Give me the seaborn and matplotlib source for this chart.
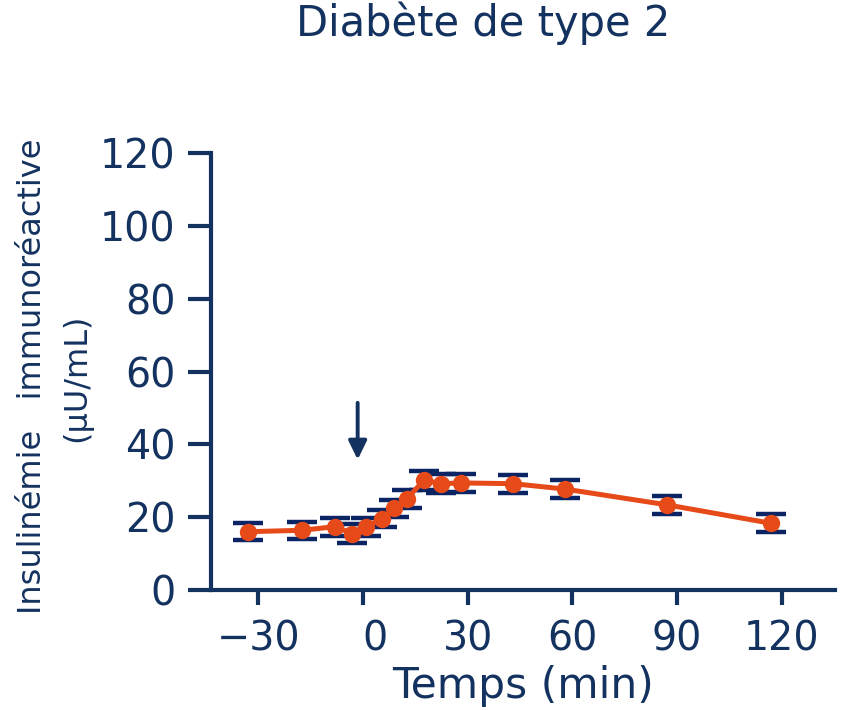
import matplotlib
matplotlib.use("Agg")
import matplotlib.pyplot as plt
import matplotlib.transforms as mtransforms
import seaborn as sns
import pandas as pd

# ---- data ----
time_min = [-33, -17.5, -8, -3, 1, 5.5, 9, 12.5, 17.5, 22.5, 28, 43, 58, 87, 117]
insulin = [16.0, 16.4, 17.4, 15.5, 17.4, 19.6, 22.4, 25.0, 30.1, 29.2, 29.4, 29.2, 27.7, 23.4, 18.3]
insulin_err = [2.4, 2.4, 2.45, 2.5, 2.5, 2.4, 2.4, 2.5, 2.6, 2.6, 2.5, 2.45, 2.45, 2.5, 2.5]
x_ticks = [-30, 0, 30, 60, 90, 120]
y_ticks = [0, 20, 40, 60, 80, 100, 120]
arrow_x = -1.5
arrow_y_from = 51.4
arrow_y_to = 35.8

title = "Diabète de type 2"
xlabel = "Temps (min)"
ylabel_line1 = "Insulinémie   immunoréactive"
ylabel_line2 = "(µU/mL)"

NAVY = "#14325f"
CAP = "#0b2463"
ORANGE = "#e64a19"

sns.set_theme(style="white")
plt.rcParams["font.family"] = ["DejaVu Sans"]

df = pd.DataFrame({"t": time_min, "ins": insulin, "err": insulin_err})

W, H = 848, 710
fig = plt.figure(figsize=(W / 100, H / 100), dpi=100)
ax = fig.add_axes([211 / W, 1 - 590 / H, (835 - 211) / W, (590 - 153) / H])

# error bars (caps)
ax.errorbar(df["t"], df["ins"], yerr=df["err"], fmt="none", ecolor=CAP,
            elinewidth=2, capsize=11, capthick=3.2, zorder=2)

# line + markers
sns.lineplot(data=df, x="t", y="ins", ax=ax, color=ORANGE, linewidth=3.6,
             marker="o", markersize=12.5, markeredgewidth=0, zorder=3,
             errorbar=None, sort=False)

# arrow
ax.annotate("", xy=(arrow_x, arrow_y_to), xytext=(arrow_x, arrow_y_from),
            arrowprops=dict(arrowstyle="-|>,head_length=0.45,head_width=0.22",
                            mutation_scale=25, color=NAVY, lw=2.8,
                            shrinkA=0, shrinkB=0))

ax.set_xlim(-43.5, 135.2)
ax.set_ylim(0, 120)
ax.set_xticks(x_ticks)
ax.set_yticks(y_ticks)
ax.set_xlabel(xlabel, fontsize=30.5, color=NAVY, labelpad=4)
ax.set_ylabel("")

for s in ["top", "right"]:
    ax.spines[s].set_visible(False)
for s in ["left", "bottom"]:
    ax.spines[s].set_color(NAVY)
    ax.spines[s].set_linewidth(3)

ax.tick_params(axis="y", direction="out", length=16.5, width=3, color=NAVY,
               labelcolor=NAVY, labelsize=28.5, pad=9, left=True)
ax.tick_params(axis="x", direction="out", length=11, width=3, color=NAVY,
               labelcolor=NAVY, labelsize=28.5, pad=10, bottom=True)

# the "0" label in the reference sits to the right of its tick
for lab in ax.get_xticklabels():
    if lab.get_text() in ("0",):
        off = mtransforms.ScaledTranslation(12 / 100, 0, fig.dpi_scale_trans)
        lab.set_transform(lab.get_transform() + off)

ax.grid(False)

fig.text(483 / W, 1 - 23 / H, title, ha="center", va="center", fontsize=30, color=NAVY)
fig.text(33 / W, 1 - 376 / H, ylabel_line1, rotation=90, ha="center", va="center",
         fontsize=23, color=NAVY)
fig.text(77 / W, 1 - 378 / H, ylabel_line2, rotation=90, ha="center", va="center",
         fontsize=23, color=NAVY)

fig.savefig("out.png", dpi=100)
